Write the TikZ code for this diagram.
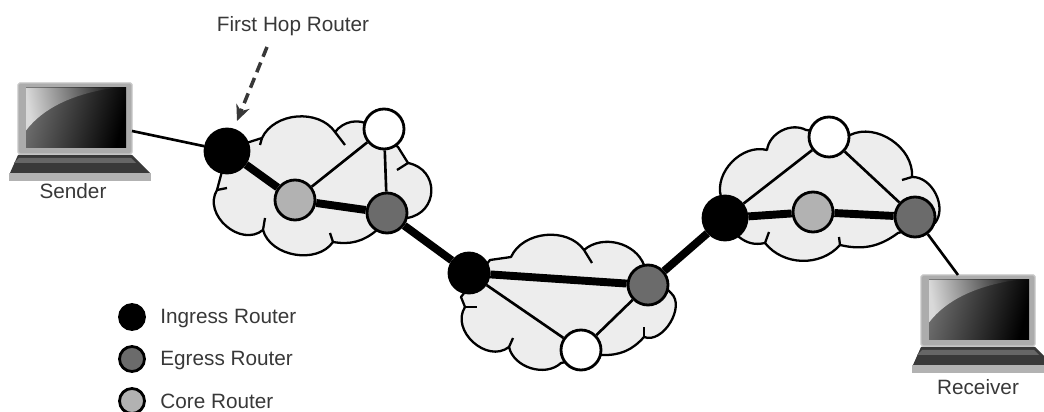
\documentclass[tikz,border=0pt]{standalone}
\usepackage{fontspec}
\setmainfont{Liberation Sans}
\usetikzlibrary{arrows.meta}
\usetikzlibrary{calc,positioning}

\definecolor{cloudgray}{gray}{0.93}
\definecolor{egressgray}{gray}{0.42}
\definecolor{coregray}{gray}{0.70}
\definecolor{labelgray}{gray}{0.22}

\tikzset{
	router/.style = {circle, draw=black, line width=1.6pt, inner sep=0pt, minimum size=0.8cm},
	ingress/.style = {router, fill=black},
	egress/.style = {router, fill=egressgray},
	core/.style = {router, fill=coregray},
	spare/.style = {router, fill=white},
	cloudline/.style = {draw=black, line width=1.3pt, line join=round},
	uplink/.style = {line width=4.5pt, black},
	sidelink/.style = {line width=1.5pt, black},
	tag/.style = {text=labelgray, font=\fontsize{11.8}{14}\selectfont, inner sep=0pt},
	pics/laptop/.style = {code = {
		\coordinate (-left) at (2.28,-0.96);
		\coordinate (-top) at (0.74,0);
		% tampa
		\fill[rounded corners=1pt, gray!65, draw=gray!45, line width=0.8pt] (0,-1.42) rectangle (2.28,0);
		\shade[left color=gray!85!black, middle color=black!95, right color=black, shading angle=75] (0.16,-1.3) rectangle (2.16,-0.1);
		\shade[left color=white!85!black, right color=black!85, shading angle=100] (0.16,-0.1) -- (1.9,-0.1) .. controls (1.1,-0.22) and (0.5,-0.5) .. (0.16,-0.95) -- cycle;
		% base
		\fill[gray!45!black] (0,-1.44) -- (2.28,-1.44) -- (2.64,-1.8) -- (-0.16,-1.8) -- cycle;
		\fill[gray!80!black] (0.02,-1.5) -- (2.26,-1.5) -- (2.36,-1.6) -- (-0.08,-1.6) -- cycle;
		\fill[gray!60] (-0.18,-1.8) rectangle (2.66,-1.96);
	}}
}

\begin{document}
\begin{tikzpicture}[>=Stealth]
	\path[use as bounding box, clip] (0,0) rectangle (20.88,8.24);

	% nuvem esquerda
	\path[cloudline, fill=cloudgray] (4.8,5.34) -- (5.24,5.48) to[bend left=60] (6.70,5.60) to[bend left=40] (7.40,5.74)
		-- (7.96,5.30) -- (8.16,4.98) to[bend left=80, looseness=1.5] (8.14,3.88) -- (7.54,3.64) to[bend left=25] (6.66,3.40)
		to[bend left=65] (5.26,3.64) to[bend left=80, looseness=1.2] (4.34,4.44) -- (4.5,5.04) -- cycle;
	\foreach \x/\y/\u/\v in {5.24/5.48/5.20/5.34, 6.70/5.60/6.90/5.34, 8.16/4.98/7.94/4.84, 6.66/3.40/6.60/3.58, 5.26/3.64/5.30/3.88, 4.34/4.44/4.54/4.48}
		\draw[cloudline] (\x,\y) -- (\u,\v);

	% nuvem central
	\path[cloudline, fill=cloudgray] (9.8,3.04) -- (10.22,3.10) to[bend left=60] (11.68,3.24) to[bend left=55] (12.88,2.94)
		-- (13.42,2.38) to[bend left=80] (12.88,1.50) to[bend left=25] (12.04,1.14) -- (11.22,0.98)
		to[bend left=60] (10.18,1.30) to[bend left=80, looseness=1.2] (9.30,2.10) -- (9.22,2.30) -- cycle;
	\foreach \x/\y/\u/\v in {11.68/3.24/11.84/2.98, 12.88/1.50/12.88/1.70, 10.18/1.30/10.26/1.48, 9.30/2.10/9.54/2.10}
		\draw[cloudline] (\x,\y) -- (\u,\v);

	% nuvem direita
	\path[cloudline, fill=cloudgray] (14.42,4.30) to[bend left=60] (15.34,5.24) to[bend left=55] (16.12,5.64) -- (17.0,5.54)
		to[bend left=60] (18.24,4.70) to[bend left=65] (18.7,3.78) -- (17.96,3.58) to[bend left=25] (16.8,3.34)
		to[bend left=50] (15.3,3.38) to[bend left=25] (14.78,3.50) -- cycle;
	\foreach \x/\y/\u/\v in {18.24/4.70/18.04/4.64, 16.8/3.34/16.78/3.50, 15.3/3.38/15.38/3.60}
		\draw[cloudline] (\x,\y) -- (\u,\v);

	% roteadores
	\node[ingress, minimum size=0.88cm] (ing1) at (4.54,5.22) {};
	\node[core] (core1) at (5.90,4.24) {};
	\node[egress] (egr1) at (7.74,3.98) {};
	\node[spare] (spare1) at (7.68,5.66) {};
	\node[ingress] (ing2) at (9.38,2.78) {};
	\node[egress] (egr2) at (12.96,2.54) {};
	\node[spare] (spare2) at (11.62,1.24) {};
	\node[ingress, minimum size=0.88cm] (ing3) at (14.50,3.88) {};
	\node[core] (core3) at (16.26,4.00) {};
	\node[egress] (egr3) at (18.30,3.90) {};
	\node[spare] (spare3) at (16.58,5.50) {};

	% laptops
	\pic (sender) at (0.36,6.58) {laptop};
	\pic (receiver) at (18.42,2.74) {laptop};
	\node[tag] (senderlabel) at (1.46,4.42) {Sender};
	\node[tag] (receiverlabel) at (19.56,0.50) {Receiver};

	% enlaces
	\draw[sidelink] (sender-left) -- (ing1);
	\draw[sidelink] (egr3) -- (receiver-top);
	\draw[sidelink] (core1) -- (spare1);
	\draw[sidelink] (spare1) -- (egr1);
	\draw[sidelink] (ing2) -- (spare2);
	\draw[sidelink] (spare2) -- (egr2);
	\draw[sidelink] (ing3) -- (spare3);
	\draw[sidelink] (spare3) -- (egr3);
	\draw[uplink] (ing1) -- (core1);
	\draw[uplink] (core1) -- (egr1);
	\draw[uplink] (egr1) -- (ing2);
	\draw[uplink] (ing2) -- (egr2);
	\draw[uplink] (egr2) -- (ing3);
	\draw[uplink] (ing3) -- (core3);
	\draw[uplink] (core3) -- (egr3);

	% primeiro salto
	\node[tag] (hop) at (5.86,7.72) {First Hop Router};
	\coordinate (hopstart) at (5.34,7.30);
	\coordinate (hoptip) at (4.74,5.82);
	\draw[-{Stealth[length=9pt,width=8pt]}, dash pattern=on 6pt off 3.5pt, line width=2pt, labelgray] (hopstart) -- (hoptip);

	% legenda
	\node[ingress, minimum size=0.5cm] (keying) at (2.64,1.90) {};
	\node[egress, minimum size=0.5cm] (keyegr) at (2.64,1.06) {};
	\node[core, minimum size=0.5cm] (keycore) at (2.64,0.22) {};
	\node[tag, anchor=west] (keyingtext) at (3.20,1.86) {Ingress Router};
	\node[tag, anchor=west] (keyegrtext) at (3.20,1.03) {Egress Router};
	\node[tag, anchor=west] (keycoretext) at (3.20,0.22) {Core Router};
\end{tikzpicture}
\end{document}
